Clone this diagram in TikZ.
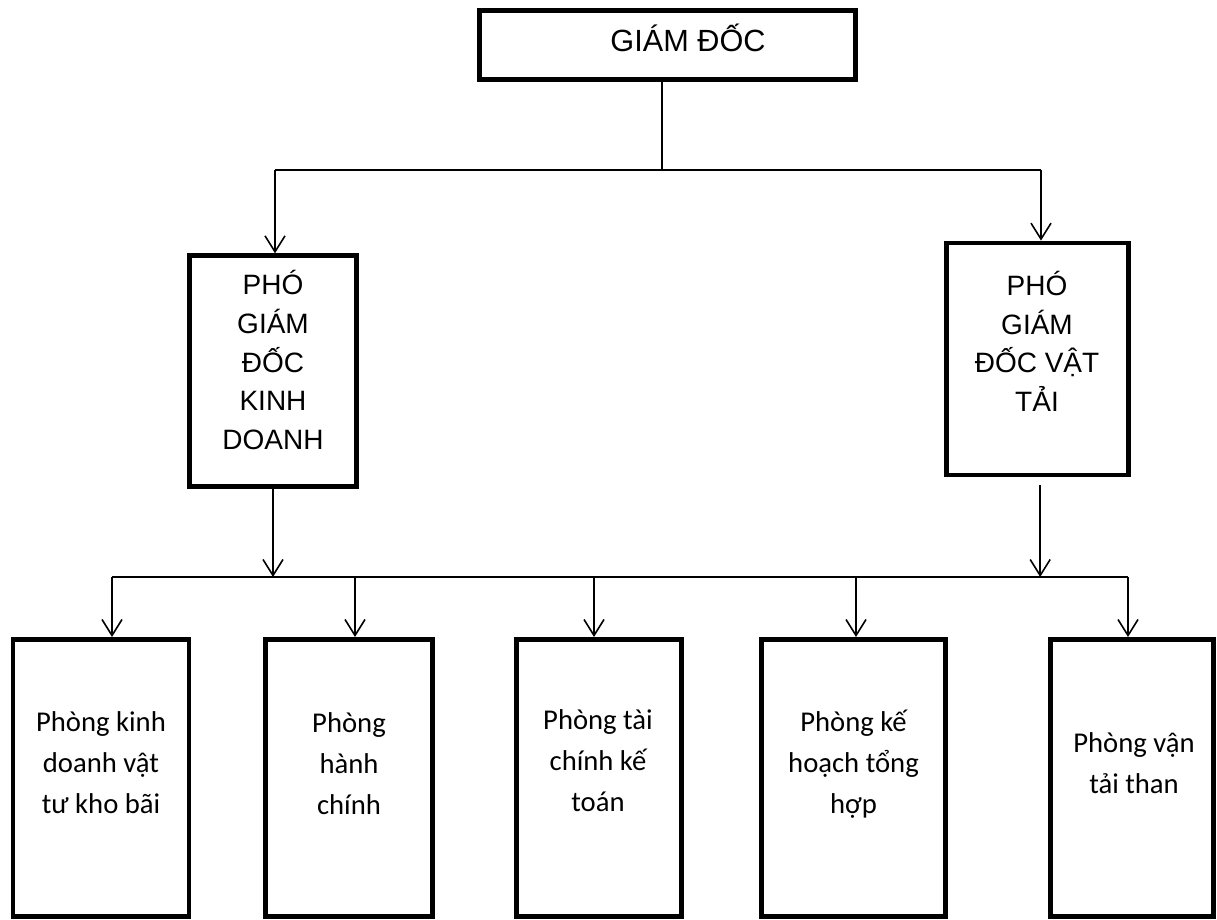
\documentclass[tikz,border=0pt]{standalone}
\usepackage{fontspec}
\newfontfamily\arialf{Liberation Sans}
\newfontfamily\calf{Carlito}
\usetikzlibrary{arrows.meta}

\begin{document}
\begin{tikzpicture}[x=0.75pt, y=-0.75pt, >={Straight Barb[length=12pt,width=15pt]},
		khung/.style={draw, line width=3.5pt, inner sep=0pt},
		chuto/.style={font=\arialf\fontsize{23}{27}\selectfont},
		chu/.style={font=\arialf\fontsize{21}{29}\selectfont, align=center},
		chuphong/.style={font=\calf\fontsize{21.5}{30.75}\selectfont, align=center},
		noi/.style={line width=1.2pt}]
	\useasboundingbox (0,0) rectangle (1217,920);

	% cac khung
	\node[khung, minimum width=282pt, minimum height=52pt] (gd) at (667.5,45) {};
	\node[khung, minimum width=125pt, minimum height=173pt] (pk) at (273,371) {};
	\node[khung, minimum width=136.5pt, minimum height=174pt] (pv) at (1037.5,359) {};
	\node[khung, minimum width=132pt, minimum height=208pt] (p1) at (101,778) {};
	\node[khung, minimum width=125pt, minimum height=208pt] (p2) at (349,778) {};
	\node[khung, minimum width=124pt, minimum height=208pt] (p3) at (599,778) {};
	\node[khung, minimum width=138pt, minimum height=208pt] (p4) at (853.5,778) {};
	\node[khung, minimum width=122pt, minimum height=208pt] (p5) at (1132,778) {};

	% chu
	\node[chuto, anchor=base] (gdt) at (688,51.7) {GIÁM ĐỐC};
	\node[chu] (pkt) at (273,360) {PHÓ\\GIÁM\\ĐỐC\\KINH\\DOANH};
	\node[chu] (pvt) at (1037,341.5) {PHÓ\\GIÁM\\ĐỐC VẬT\\TẢI};
	\node[chuphong] (p1t) at (101,763) {Phòng kinh\\doanh vật\\tư kho bãi};
	\node[chuphong] (p2t) at (349,764) {Phòng\\hành\\chính};
	\node[chuphong] (p3t) at (598,761) {Phòng tài\\chính kế\\toán};
	\node[chuphong] (p4t) at (853.5,764) {Phòng kế\\hoạch tổng\\hợp};
	\node[chuphong] (p5t) at (1134,763) {Phòng vận\\tải than};

	% giam doc xuong hai pho giam doc
	\coordinate (gds) at ([xshift=-4pt]gd.south);
	\coordinate (tL) at (275,170);
	\coordinate (tR) at (1041,170);
	\draw[noi] (gds) -- (gds |- tL);
	\draw[noi] (tL) -- (tR);
	\draw[noi, ->] (tL) -- (tL |- pk.north);
	\draw[noi, ->] (tR) -- (tR |- pv.north);

	% pho giam doc xuong cac phong
	\coordinate (bL) at (112,577);
	\coordinate (k2) at (355,577);
	\coordinate (k3) at (594,577);
	\coordinate (k4) at (856,577);
	\coordinate (bR) at (1128,577);
	\coordinate (pvs) at ([xshift=2pt, yshift=-6pt]pv.south);
	\draw[noi] (bL) -- (bR);
	\draw[noi, ->] (pk.south) -- (pk.south |- bL);
	\draw[noi, ->] (pvs) -- (pvs |- bL);
	\draw[noi, ->] (bL) -- (bL |- p1.north);
	\draw[noi, ->] (k2) -- (k2 |- p2.north);
	\draw[noi, ->] (k3) -- (k3 |- p3.north);
	\draw[noi, ->] (k4) -- (k4 |- p4.north);
	\draw[noi, ->] (bR) -- (bR |- p5.north);
\end{tikzpicture}
\end{document}
